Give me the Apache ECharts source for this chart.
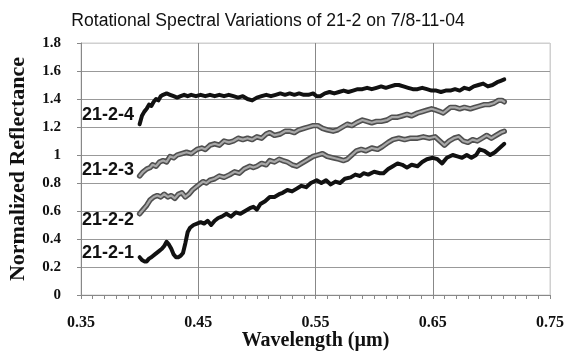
<!DOCTYPE html>
<html><head><meta charset="utf-8">
<script src="https://cdn.jsdelivr.net/npm/echarts@6/dist/echarts.min.js"></script>
<style>html,body{margin:0;padding:0;background:#fff}#c{width:567px;height:354px}</style>
</head><body><div id="c"></div>
<script>
var titleText = 'Rotational Spectral Variations of 21-2 on 7/8-11-04';
var xName = 'Wavelength (\u00b5m)';
var yName = 'Normalized Reflectance';
var seriesNames = ['21-2-1', '21-2-2', '21-2-3', '21-2-4'];

var s1 = [[0.400,0.27],[0.402,0.25],[0.404,0.24],[0.406,0.24],[0.408,0.26],[0.410,0.27],[0.413,0.29],[0.416,0.31],[0.419,0.33],[0.421,0.35],[0.423,0.38],[0.425,0.36],[0.427,0.33],[0.429,0.29],[0.431,0.27],[0.433,0.27],[0.435,0.28],[0.437,0.30],[0.439,0.37],[0.441,0.45],[0.443,0.48],[0.446,0.50],[0.449,0.51],[0.452,0.52],[0.455,0.51],[0.458,0.53],[0.461,0.50],[0.464,0.53],[0.467,0.55],[0.470,0.56],[0.474,0.58],[0.478,0.56],[0.482,0.59],[0.486,0.58],[0.490,0.60],[0.494,0.62],[0.497,0.63],[0.500,0.61],[0.503,0.65],[0.507,0.67],[0.511,0.70],[0.515,0.70],[0.519,0.72],[0.522,0.73],[0.526,0.75],[0.530,0.74],[0.534,0.76],[0.538,0.78],[0.542,0.77],[0.546,0.80],[0.551,0.82],[0.555,0.80],[0.559,0.82],[0.563,0.79],[0.567,0.81],[0.571,0.80],[0.575,0.83],[0.580,0.84],[0.584,0.86],[0.588,0.85],[0.591,0.87],[0.595,0.86],[0.600,0.88],[0.605,0.87],[0.608,0.87],[0.612,0.90],[0.616,0.92],[0.620,0.94],[0.624,0.93],[0.628,0.91],[0.632,0.93],[0.637,0.92],[0.641,0.95],[0.645,0.97],[0.650,0.98],[0.654,0.97],[0.658,0.94],[0.662,0.98],[0.667,1.00],[0.671,0.99],[0.675,0.98],[0.679,1.00],[0.683,0.98],[0.687,1.00],[0.690,1.04],[0.694,1.03],[0.699,1.00],[0.703,1.02],[0.707,1.05],[0.711,1.08]];

var s2 = [[0.400,0.58],[0.403,0.61],[0.406,0.64],[0.409,0.68],[0.412,0.70],[0.415,0.71],[0.418,0.70],[0.421,0.72],[0.424,0.70],[0.427,0.71],[0.430,0.69],[0.433,0.72],[0.436,0.73],[0.439,0.70],[0.442,0.72],[0.445,0.75],[0.448,0.77],[0.451,0.79],[0.454,0.81],[0.457,0.80],[0.460,0.82],[0.464,0.83],[0.468,0.85],[0.472,0.84],[0.477,0.86],[0.481,0.88],[0.485,0.87],[0.489,0.90],[0.494,0.92],[0.497,0.91],[0.500,0.92],[0.504,0.94],[0.508,0.93],[0.511,0.96],[0.515,0.95],[0.519,0.97],[0.522,0.96],[0.526,0.95],[0.530,0.93],[0.534,0.92],[0.538,0.94],[0.542,0.96],[0.548,0.99],[0.552,1.00],[0.556,1.01],[0.560,0.99],[0.565,0.98],[0.570,0.97],[0.574,0.96],[0.577,0.97],[0.581,1.00],[0.585,1.03],[0.589,1.04],[0.593,1.03],[0.598,1.05],[0.603,1.04],[0.607,1.06],[0.612,1.09],[0.616,1.11],[0.621,1.12],[0.626,1.11],[0.631,1.12],[0.637,1.12],[0.642,1.13],[0.647,1.12],[0.652,1.13],[0.656,1.10],[0.660,1.07],[0.664,1.10],[0.668,1.12],[0.672,1.13],[0.676,1.10],[0.680,1.09],[0.684,1.11],[0.688,1.10],[0.692,1.12],[0.696,1.14],[0.700,1.12],[0.704,1.14],[0.708,1.16],[0.711,1.17]];

var s3 = [[0.400,0.85],[0.403,0.88],[0.406,0.90],[0.409,0.91],[0.411,0.93],[0.414,0.92],[0.417,0.95],[0.420,0.96],[0.423,0.95],[0.426,0.99],[0.429,0.98],[0.432,1.00],[0.436,1.01],[0.440,1.02],[0.444,1.01],[0.449,1.04],[0.453,1.05],[0.456,1.04],[0.460,1.07],[0.464,1.08],[0.468,1.07],[0.472,1.10],[0.476,1.09],[0.480,1.10],[0.484,1.12],[0.488,1.11],[0.492,1.12],[0.496,1.11],[0.500,1.13],[0.504,1.12],[0.508,1.15],[0.511,1.16],[0.515,1.14],[0.520,1.15],[0.524,1.17],[0.528,1.17],[0.532,1.16],[0.536,1.18],[0.540,1.19],[0.544,1.20],[0.548,1.21],[0.552,1.21],[0.556,1.19],[0.560,1.18],[0.565,1.17],[0.569,1.18],[0.573,1.20],[0.577,1.22],[0.581,1.21],[0.585,1.23],[0.590,1.25],[0.594,1.24],[0.598,1.23],[0.602,1.24],[0.606,1.24],[0.611,1.25],[0.615,1.27],[0.620,1.27],[0.624,1.28],[0.628,1.29],[0.632,1.28],[0.637,1.30],[0.641,1.31],[0.645,1.32],[0.649,1.33],[0.653,1.32],[0.656,1.31],[0.659,1.30],[0.662,1.32],[0.665,1.34],[0.669,1.34],[0.673,1.33],[0.677,1.34],[0.682,1.33],[0.686,1.34],[0.690,1.35],[0.694,1.36],[0.698,1.36],[0.702,1.37],[0.706,1.39],[0.709,1.39],[0.711,1.38]];

var s4 = [[0.400,1.22],[0.401,1.25],[0.402,1.28],[0.404,1.31],[0.406,1.33],[0.408,1.36],[0.410,1.35],[0.412,1.38],[0.414,1.40],[0.416,1.39],[0.418,1.42],[0.420,1.43],[0.423,1.44],[0.426,1.43],[0.429,1.42],[0.432,1.41],[0.435,1.42],[0.438,1.43],[0.441,1.42],[0.444,1.43],[0.448,1.42],[0.452,1.43],[0.456,1.42],[0.460,1.43],[0.464,1.42],[0.468,1.43],[0.472,1.42],[0.476,1.43],[0.480,1.42],[0.484,1.41],[0.488,1.42],[0.492,1.40],[0.496,1.39],[0.500,1.41],[0.504,1.42],[0.508,1.43],[0.512,1.42],[0.516,1.43],[0.520,1.44],[0.524,1.43],[0.528,1.44],[0.532,1.43],[0.536,1.44],[0.540,1.43],[0.544,1.43],[0.548,1.44],[0.551,1.42],[0.554,1.42],[0.558,1.44],[0.562,1.45],[0.566,1.44],[0.570,1.45],[0.574,1.46],[0.578,1.45],[0.582,1.46],[0.586,1.47],[0.590,1.47],[0.594,1.48],[0.598,1.47],[0.602,1.48],[0.606,1.49],[0.610,1.48],[0.614,1.49],[0.618,1.50],[0.621,1.50],[0.625,1.49],[0.629,1.48],[0.633,1.47],[0.637,1.47],[0.641,1.48],[0.645,1.47],[0.649,1.46],[0.653,1.46],[0.657,1.45],[0.661,1.46],[0.665,1.46],[0.669,1.47],[0.673,1.46],[0.677,1.48],[0.681,1.47],[0.685,1.49],[0.689,1.50],[0.693,1.51],[0.697,1.49],[0.701,1.50],[0.705,1.52],[0.708,1.53],[0.711,1.54]];

var chart = echarts.init(document.getElementById('c'), null, {renderer: 'canvas'});
var serif = '"Liberation Serif","Times New Roman",serif';
var sans = '"Liberation Sans",Arial,sans-serif';

function blackLine(name, data) {
  return {name: name, type: 'line', data: data, showSymbol: false, symbol: 'none', silent: true,
    lineStyle: {color: '#111', width: 4, join: 'round', cap: 'round'}, z: 5};
}
function grayLine(name, data) {
  return [
    {name: name, type: 'line', data: data, showSymbol: false, symbol: 'none', silent: true,
      lineStyle: {color: '#505050', width: 5.4, join: 'round', cap: 'round'}, z: 4},
    {name: name + ' fill', type: 'line', data: data, showSymbol: false, symbol: 'none', silent: true,
      lineStyle: {color: '#a8a8a8', width: 2.2, join: 'round', cap: 'round'}, z: 4}
  ];
}

var labelPos = [[82, 254], [82, 221], [82, 171], [82, 116]];

var option = {
  animation: false,
  backgroundColor: '#fff',
  title: {text: titleText, left: 263, textAlign: 'center', top: 7,
    textStyle: {fontFamily: sans, fontSize: 17.6, fontWeight: 'normal', color: '#111'}},
  grid: {left: 81, right: 17, top: 43, bottom: 59, show: true, borderColor: '#cfcfcf', borderWidth: 1,
    containLabel: false, outerBoundsMode: 'none'},
  xAxis: {type: 'value', min: 0.35, max: 0.75, interval: 0.1,
    name: xName, nameLocation: 'middle', nameGap: 36, nameMoveOverlap: false,
    nameTextStyle: {fontFamily: serif, fontSize: 20, fontWeight: 'bold', color: '#111'},
    axisLine: {show: true, lineStyle: {color: '#888', width: 1}},
    axisTick: {show: true, length: 4, inside: false, lineStyle: {color: '#888'}},
    minorTick: {show: true, splitNumber: 10, length: 4, lineStyle: {color: '#888'}},
    axisLabel: {fontFamily: serif, fontSize: 16, fontWeight: 'bold', color: '#111', margin: 20,
      formatter: function (v) { return v.toFixed(2); }},
    splitLine: {show: true, lineStyle: {color: ['#888', '#888', '#888', '#888', '#d0d0d0'], width: 1}}
  },
  yAxis: {type: 'value', min: 0, max: 1.8, interval: 0.2,
    name: yName, nameLocation: 'middle', nameGap: 52, nameMoveOverlap: false,
    nameTextStyle: {fontFamily: serif, fontSize: 22, fontWeight: 'bold', color: '#111'},
    axisLine: {show: true, lineStyle: {color: '#888', width: 1}},
    axisTick: {show: true, length: 4, lineStyle: {color: '#888'}},
    axisLabel: {fontFamily: serif, fontSize: 15, fontWeight: 'bold', color: '#111', margin: 20,
      formatter: function (v) { return String(Math.round(v * 10) / 10); }},
    splitLine: {show: true, lineStyle: {color: ['#999', '#999', '#999', '#999', '#999', '#999', '#999', '#999', '#999', '#d0d0d0'], width: 1}}
  },
  graphic: seriesNames.map(function (n, i) {
    return {type: 'text', left: labelPos[i][0], top: labelPos[i][1] - 10, z: 20,
      style: {text: n, fontFamily: sans, fontSize: 18, fontWeight: 'bold', fill: '#111'}};
  }),
  series: [].concat(
    [blackLine(seriesNames[0], s1)],
    grayLine(seriesNames[1], s2),
    grayLine(seriesNames[2], s3),
    [blackLine(seriesNames[3], s4)]
  )
};
chart.setOption(option);
</script></body></html>
